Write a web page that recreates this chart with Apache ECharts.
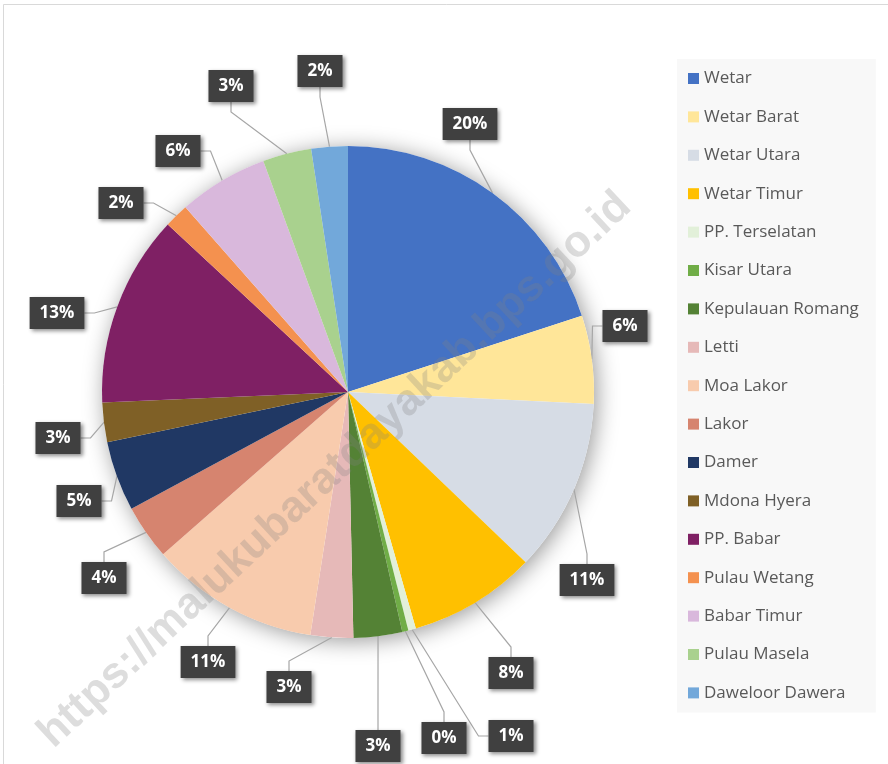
<!DOCTYPE html>
<html><head><meta charset="utf-8">
<script src="https://cdn.jsdelivr.net/npm/echarts@6/dist/echarts.min.js"></script>
<style>html,body{margin:0;padding:0;background:#fff}#c{width:888px;height:764px}</style>
</head><body><div id="c"></div>
<script>
const categories = ['Wetar','Wetar Barat','Wetar Utara','Wetar Timur','PP. Terselatan','Kisar Utara','Kepulauan Romang','Letti','Moa Lakor','Lakor','Damer','Mdona Hyera','PP. Babar','Pulau Wetang','Babar Timur','Pulau Masela','Daweloor Dawera'];
const values = [20.0, 5.8, 11.4, 8.4, 0.5, 0.4, 3.2, 2.8, 11.1, 3.6, 4.6, 2.6, 12.6, 1.6, 5.9, 3.2, 2.4];
const colors = ['#4472C4','#FFE699','#D6DCE5','#FFC000','#E2F0D9','#70AD47','#548235','#E6B9B8','#F8CBAD','#D6846F','#203864','#7F6026','#7F2064','#F4914F','#D9B8DC','#A9D18E','#72A8DA'];
const watermark = 'https://malukubaratdayakab.bps.go.id';
// layout only: where each data label box sits (as placed in the original chart)
const labelCenters = [[470,124],[625,326],[587,580],[511,673],[511,736],[444,738],[378,746],[289,687],[208,662],[104,578],[79,501],[58,438],[57,313],[121,203],[178,151],[231,86],[320,71]];

const chart = echarts.init(document.getElementById('c'), null, {renderer:'canvas'});
const data = categories.map((n,i)=>({name:n, value:values[i], itemStyle:{color:colors[i]}}));
chart.setOption({
  animation:false,
  backgroundColor:'#fff',
  legend:{
    orient:'vertical', left:677, top:59,
    backgroundColor:'#F8F8F8', padding:[11,17,11,11],
    itemWidth:11, itemHeight:11, itemGap:21.4,
    icon:'rect',
    textStyle:{color:'#595959', fontSize:17, fontFamily:'Open Sans'},
    data:categories
  },
  graphic:[
    {type:'rect', shape:{x:3.5,y:4.5,width:900,height:800}, style:{fill:'none', stroke:'#D9D9D9', lineWidth:1}, silent:true, z:0},
    {type:'text', x:335, y:470, rotation:43*Math.PI/180, z:100, silent:true,
     style:{text:watermark, fill:'rgba(128,128,128,0.27)', font:'bold 44px "Liberation Sans"', align:'center', verticalAlign:'middle'}}
  ],
  series:[
    {type:'pie', center:[348,392], radius:246, silent:true, z:1,
     data:[{value:1, itemStyle:{color:'#fff', shadowBlur:22, shadowColor:'rgba(0,0,0,0.4)', shadowOffsetX:3, shadowOffsetY:3}}],
     label:{show:false}, labelLine:{show:false}},
    {type:'pie', center:[348,392], radius:246, startAngle:90, clockwise:true, z:2,
     data:data,
     avoidLabelOverlap:false,
     label:{show:true, position:'outside',
       formatter:p=>Math.round(p.value)+'%',
       color:'#fff', fontWeight:'bold', fontSize:17, fontFamily:'Open Sans',
       backgroundColor:'#404040', padding:[8,10,7,10],
       shadowBlur:4, shadowColor:'rgba(0,0,0,0.45)', shadowOffsetX:2, shadowOffsetY:2},
     labelLine:{show:true, length:20, length2:10, lineStyle:{color:'#A6A6A6', width:1.2}},
     labelLayout:p=>({x:labelCenters[p.dataIndex][0], y:labelCenters[p.dataIndex][1], align:'center', verticalAlign:'middle'})
    }
  ]
});
</script></body></html>
